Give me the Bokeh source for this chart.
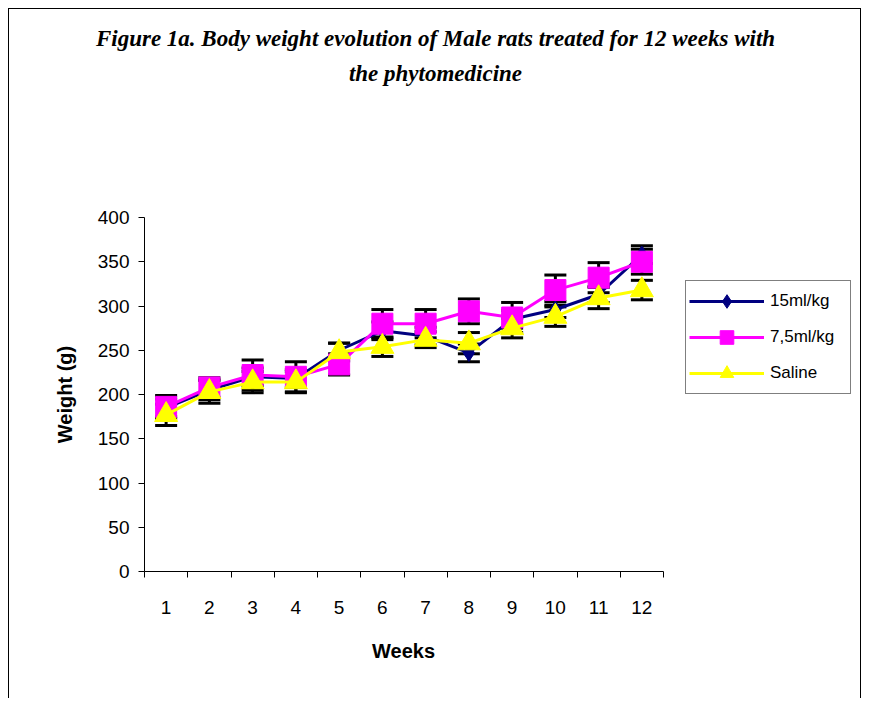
import math
from bokeh.plotting import figure
from bokeh.models import (Range1d, FixedTicker, Whisker, TeeHead, ColumnDataSource,
                          Legend, LegendItem, Label)
from bokeh.embed import file_html
from bokeh.resources import INLINE

# ---- data ----
weeks = [1, 2, 3, 4, 5, 6, 7, 8, 9, 10, 11, 12]
dose15 = [185, 205, 220, 218, 250, 272, 266, 247, 285, 296, 313, 358]
dose15_sd = [10, 11, 10, 10, 8, 10, 10, 10, 10, 9, 9, 10]
dose75 = [186, 208, 222, 220, 234, 280, 280, 294, 287, 318, 332, 350]
dose75_sd = [13, 11, 17, 17, 12, 16, 16, 14, 17, 17, 17, 14]
saline = [177, 203, 214, 214, 248, 254, 262, 258, 275, 288, 309, 318]
saline_sd = [12, 13, 12, 12, 10, 11, 9, 12, 11, 11, 12, 11]
series_names = ["15ml/kg", "7,5ml/kg", "Saline"]
y_ticks = [0, 50, 100, 150, 200, 250, 300, 350, 400]
title_lines = ["Figure 1a. Body weight evolution of Male rats treated for 12 weeks with",
               "the phytomedicine"]
x_title = "Weeks"
y_title = "Weight (g)"

SANS = "Liberation Sans"
SERIF = "Liberation Serif"

# layout (pixels). The frame covers the whole canvas; the axes sit at fixed
# locations and are bounded to the data area.
W, H = 853, 690
AX_LEFT, AX_TOP = 135, 208          # pixel position of the axes' corner
AXIS_W, AXIS_H = 519, 354           # pixel extent of the drawn axes
px_x = AXIS_W / 12.0
px_y = AXIS_H / 400.0
x_start = 0.5 - AX_LEFT / px_x
x_end = x_start + W / px_x
y_end = 400 + AX_TOP / px_y
y_start = y_end - H / px_y

p = figure(width=W, height=H, output_backend="svg", toolbar_location=None,
           x_range=Range1d(x_start, x_end), y_range=Range1d(y_start, y_end),
           min_border=0, min_border_left=0, min_border_right=0,
           min_border_top=0, min_border_bottom=0)
p.styles = {"border-top": "1px solid black", "border-left": "1px solid black",
            "border-right": "1px solid black", "margin": "8px 8px 0px 8px"}
p.outline_line_color = None
p.grid.visible = False
p.background_fill_color = "white"
p.border_fill_color = "white"

# x axis: ticks between categories, labels at centers
xa = p.xaxis[0]
xa.fixed_location = 0
xa.bounds = (0.5, 12.5)
xa.ticker = FixedTicker(ticks=weeks, minor_ticks=[w - 0.5 for w in weeks] + [12.5])
xa.major_tick_out = 0
xa.major_tick_in = 0
xa.minor_tick_out = 6
xa.minor_tick_in = 0
xa.minor_tick_line_color = "black"
xa.axis_line_color = "black"
xa.major_label_standoff = 23
xa.major_label_text_font = SANS
xa.major_label_text_font_size = "19px"
xa.major_label_text_color = "black"

ya = p.yaxis[0]
ya.fixed_location = 0.5
ya.bounds = (0, 400)
ya.ticker = FixedTicker(ticks=y_ticks, minor_ticks=[])
ya.major_tick_out = 6
ya.major_tick_in = 0
ya.major_tick_line_color = "black"
ya.axis_line_color = "black"
ya.major_label_standoff = 9
ya.major_label_text_font = SANS
ya.major_label_text_font_size = "19px"
ya.major_label_text_color = "black"

specs = [
    (dose15, dose15_sd, "#000080", "diamond", 17),
    (dose75, dose75_sd, "#FF00FF", "square", 21),
    (saline, saline_sd, "#FFFF00", "triangle", 23),
]

items = []
for name, (vals, sd, color, marker, size) in zip(series_names, specs):
    src = ColumnDataSource(dict(x=weeks, y=vals,
                                upper=[v + s for v, s in zip(vals, sd)],
                                lower=[v - s for v, s in zip(vals, sd)]))
    wh = Whisker(source=src, base="x", upper="upper", lower="lower",
                 line_color="black", line_width=3, level="underlay",
                 upper_head=TeeHead(size=22, line_color="black", line_width=3),
                 lower_head=TeeHead(size=22, line_color="black", line_width=3))
    p.add_layout(wh)
    lr = p.line("x", "y", source=src, line_color=color, line_width=3)
    sr = p.scatter("x", "y", source=src, marker=marker, size=size,
                   fill_color=color, line_color=color, line_width=1)
    items.append(LegendItem(label=name, renderers=[lr, sr]))

legend = Legend(items=items, location=(676, 305),
                border_line_color="black", border_line_width=1,
                background_fill_color="white", background_fill_alpha=1,
                label_text_font=SANS, label_text_font_size="17px",
                label_text_color="black",
                glyph_width=75, glyph_height=34, label_height=20, label_width=77,
                label_standoff=6, padding=3, spacing=2, margin=0)
p.add_layout(legend, "center")

# titles (screen units measured from the frame's bottom-left corner)
for txt, yy in zip(title_lines, [661, 626]):
    p.add_layout(Label(x=426, y=yy, x_units="screen", y_units="screen", text=txt,
                       text_align="center", text_baseline="middle",
                       text_font=SERIF, text_font_style="bold italic",
                       text_font_size="23px", text_color="black"))

p.add_layout(Label(x=394, y=49, x_units="screen", y_units="screen", text=x_title,
                   text_align="center", text_baseline="middle",
                   text_font=SANS, text_font_style="bold",
                   text_font_size="20px", text_color="black"))
p.add_layout(Label(x=55, y=305, x_units="screen", y_units="screen", text=y_title,
                   angle=math.pi / 2, text_align="center", text_baseline="middle",
                   text_font=SANS, text_font_style="bold",
                   text_font_size="20px", text_color="black"))

open("out.html", "w").write(file_html(p, INLINE))
